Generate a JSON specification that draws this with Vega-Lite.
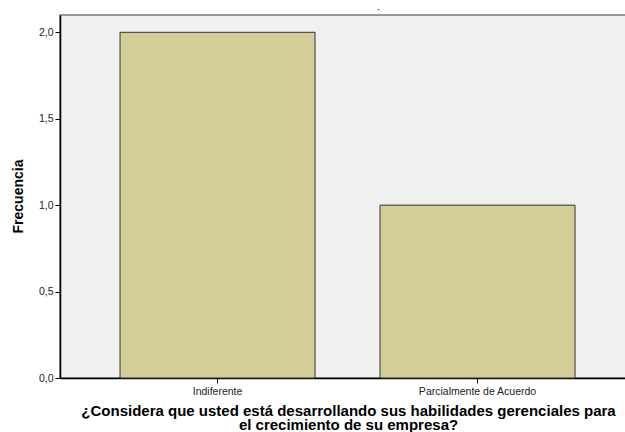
{
  "$schema": "https://vega.github.io/schema/vega-lite/v6.json",
  "autosize": {"type": "none"},
  "width": 567,
  "height": 363,
  "padding": {"left": 60, "top": 15, "right": 0, "bottom": 54},
  "background": "white",
  "title": {"text": "-", "fontSize": 8, "font": "Liberation Sans", "color": "#000000", "dx": 35, "offset": 2, "fontWeight": "normal"},
  "config": {
    "view": {"fill": "#f0f0f0", "stroke": "#7a7a7a", "strokeWidth": 1.5},
    "font": "Liberation Sans"
  },
  "data": {
    "values": [
      {"categoria": "Indiferente", "frecuencia": 2},
      {"categoria": "Parcialmente de Acuerdo", "frecuencia": 1}
    ]
  },
  "mark": {"type": "bar", "fill": "#d3ce97", "stroke": "#333333", "strokeWidth": 1},
  "encoding": {
    "x": {
      "field": "categoria",
      "type": "nominal",
      "sort": null,
      "scale": {"paddingInner": 0.25, "paddingOuter": 0.2154, "align": 0.536},
      "axis": {
        "title": ["¿Considera que usted está desarrollando sus habilidades gerenciales para", "el crecimiento de su empresa?"],
        "titleFont": "Liberation Sans",
        "titleFontSize": 15,
        "titleFontWeight": "bold",
        "titleColor": "#000000",
        "titleX": 288,
        "titleY": 37,
        "titleAlign": "center",
        "titleBaseline": "alphabetic",
        "titleLineHeight": 14,
        "labelAngle": 0,
        "labelFontSize": 10.5,
        "labelColor": "#222222",
        "labelPadding": 3,
        "tickSize": 5,
        "tickColor": "#000000",
        "domainColor": "#000000",
        "domainWidth": 1.5,
        "grid": false
      }
    },
    "y": {
      "field": "frecuencia",
      "type": "quantitative",
      "scale": {"domain": [0, 2.1], "nice": false},
      "axis": {
        "title": "Frecuencia",
        "titleFont": "Liberation Sans",
        "titleFontSize": 14,
        "titleFontWeight": "bold",
        "titleColor": "#000000",
        "titleX": -42,
        "titleY": 181,
        "titleAlign": "center",
        "titleBaseline": "middle",
        "values": [0, 0.5, 1, 1.5, 2],
        "labelExpr": "replace(format(datum.value, '.1f'), '.', ',')",
        "labelFontSize": 10.5,
        "labelColor": "#222222",
        "labelPadding": 2,
        "tickSize": 5,
        "tickColor": "#000000",
        "domainColor": "#000000",
        "domainWidth": 1.5,
        "grid": false
      }
    }
  }
}
